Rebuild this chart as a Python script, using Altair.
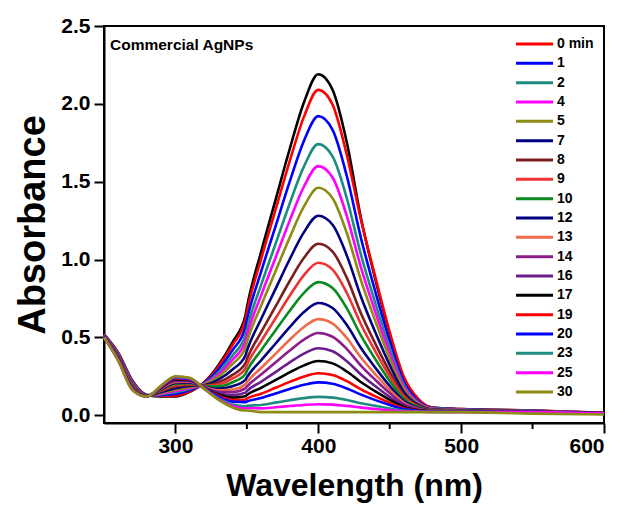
import altair as alt
import pandas as pd

# Wavelength grid (nm) shared by every spectrum
wavelength = [250, 260, 270, 280, 290, 300, 310, 320, 330, 340, 349, 350, 360, 370,
              380, 390, 400, 410, 420, 430, 440, 450, 460, 470, 480, 500, 550, 600]

# Absorbance spectra, one list per scan
abs_start = [0.52, 0.40, 0.22, 0.13, 0.12, 0.12, 0.15, 0.21, 0.32, 0.47, 0.64, 0.69, 1.05, 1.38,
             1.71, 2.01, 2.19, 2.09, 1.75, 1.26, 0.87, 0.52, 0.22, 0.09, 0.05, 0.04, 0.03, 0.015]
abs_0 = [0.519, 0.398, 0.217, 0.13, 0.123, 0.126, 0.154, 0.208, 0.31, 0.451, 0.612, 0.66, 1.003, 1.317,
         1.632, 1.918, 2.09, 1.995, 1.67, 1.25, 0.885, 0.535, 0.245, 0.105, 0.049, 0.039, 0.03, 0.015]
abs_1 = [0.518, 0.394, 0.213, 0.129, 0.129, 0.136, 0.161, 0.205, 0.293, 0.418, 0.564, 0.608, 0.922, 1.211,
         1.50, 1.763, 1.921, 1.833, 1.535, 1.133, 0.791, 0.476, 0.213, 0.09, 0.046, 0.038, 0.029, 0.014]
abs_2 = [0.516, 0.39, 0.208, 0.128, 0.134, 0.147, 0.169, 0.202, 0.274, 0.383, 0.514, 0.553, 0.837, 1.098,
         1.36, 1.598, 1.741, 1.662, 1.392, 1.027, 0.718, 0.432, 0.194, 0.083, 0.044, 0.036, 0.028, 0.014]
abs_4 = [0.515, 0.386, 0.204, 0.127, 0.139, 0.155, 0.174, 0.199, 0.26, 0.356, 0.474, 0.51, 0.77, 1.01,
         1.25, 1.469, 1.60, 1.527, 1.279, 0.945, 0.661, 0.399, 0.18, 0.078, 0.042, 0.035, 0.027, 0.014]
abs_5 = [0.513, 0.383, 0.20, 0.127, 0.144, 0.164, 0.18, 0.197, 0.246, 0.329, 0.435, 0.468, 0.704, 0.923,
         1.142, 1.341, 1.461, 1.394, 1.169, 0.863, 0.604, 0.365, 0.166, 0.073, 0.04, 0.033, 0.027, 0.013]
abs_7 = [0.512, 0.379, 0.195, 0.126, 0.149, 0.174, 0.188, 0.193, 0.228, 0.294, 0.384, 0.413, 0.618, 0.81,
         1.002, 1.176, 1.281, 1.223, 1.025, 0.758, 0.531, 0.322, 0.148, 0.066, 0.037, 0.032, 0.026, 0.013]
abs_8 = [0.51, 0.375, 0.19, 0.125, 0.155, 0.185, 0.195, 0.19, 0.21, 0.259, 0.334, 0.359, 0.533, 0.697,
         0.862, 1.011, 1.101, 1.051, 0.882, 0.652, 0.458, 0.279, 0.13, 0.06, 0.035, 0.03, 0.025, 0.0125]
abs_9 = [0.509, 0.372, 0.187, 0.124, 0.159, 0.193, 0.20, 0.188, 0.197, 0.236, 0.30, 0.322, 0.475, 0.621,
         0.767, 0.90, 0.979, 0.935, 0.785, 0.581, 0.409, 0.25, 0.117, 0.055, 0.033, 0.029, 0.024, 0.012]
abs_10 = [0.508, 0.369, 0.183, 0.124, 0.163, 0.20, 0.205, 0.185, 0.185, 0.212, 0.265, 0.284, 0.417, 0.544,
          0.671, 0.786, 0.855, 0.817, 0.686, 0.509, 0.359, 0.22, 0.105, 0.051, 0.032, 0.028, 0.024, 0.012]
abs_12 = [0.506, 0.366, 0.179, 0.123, 0.167, 0.208, 0.211, 0.183, 0.171, 0.186, 0.227, 0.243, 0.353, 0.459,
          0.566, 0.663, 0.721, 0.689, 0.579, 0.43, 0.304, 0.188, 0.091, 0.046, 0.03, 0.026, 0.023, 0.012]
abs_13 = [0.506, 0.364, 0.177, 0.123, 0.171, 0.214, 0.215, 0.181, 0.16, 0.165, 0.198, 0.211, 0.303, 0.394,
          0.485, 0.567, 0.617, 0.589, 0.496, 0.369, 0.262, 0.163, 0.08, 0.042, 0.028, 0.025, 0.023, 0.011]
abs_14 = [0.505, 0.362, 0.174, 0.122, 0.174, 0.22, 0.219, 0.179, 0.151, 0.148, 0.173, 0.184, 0.261, 0.338,
          0.415, 0.486, 0.528, 0.504, 0.425, 0.317, 0.226, 0.142, 0.071, 0.039, 0.027, 0.025, 0.022, 0.011]
abs_16 = [0.504, 0.359, 0.171, 0.122, 0.177, 0.225, 0.223, 0.178, 0.142, 0.129, 0.145, 0.155, 0.215, 0.277,
          0.339, 0.396, 0.43, 0.411, 0.347, 0.26, 0.186, 0.118, 0.062, 0.035, 0.026, 0.024, 0.022, 0.011]
abs_17 = [0.503, 0.358, 0.169, 0.122, 0.179, 0.23, 0.226, 0.176, 0.133, 0.113, 0.122, 0.13, 0.176, 0.225,
          0.275, 0.32, 0.348, 0.333, 0.281, 0.212, 0.153, 0.099, 0.053, 0.032, 0.025, 0.023, 0.022, 0.011]
abs_19 = [0.502, 0.356, 0.167, 0.121, 0.182, 0.235, 0.23, 0.175, 0.125, 0.098, 0.10, 0.106, 0.138, 0.176,
          0.214, 0.249, 0.27, 0.258, 0.219, 0.166, 0.121, 0.08, 0.045, 0.029, 0.023, 0.022, 0.021, 0.011]
abs_20 = [0.502, 0.354, 0.165, 0.121, 0.184, 0.239, 0.232, 0.174, 0.119, 0.087, 0.084, 0.088, 0.111, 0.14,
          0.169, 0.195, 0.211, 0.202, 0.172, 0.132, 0.097, 0.066, 0.039, 0.027, 0.023, 0.022, 0.021, 0.0105]
abs_23 = [0.501, 0.352, 0.163, 0.12, 0.187, 0.244, 0.236, 0.172, 0.11, 0.069, 0.057, 0.06, 0.066, 0.081,
          0.096, 0.11, 0.118, 0.113, 0.098, 0.077, 0.06, 0.043, 0.03, 0.024, 0.021, 0.021, 0.02, 0.01]
abs_25 = [0.50, 0.351, 0.161, 0.12, 0.188, 0.247, 0.238, 0.171, 0.105, 0.06, 0.044, 0.045, 0.044, 0.051,
          0.059, 0.066, 0.07, 0.068, 0.06, 0.049, 0.04, 0.032, 0.025, 0.022, 0.021, 0.02, 0.02, 0.01]
abs_30 = [0.50, 0.35, 0.16, 0.12, 0.19, 0.25, 0.24, 0.17, 0.10, 0.05, 0.03, 0.03, 0.02, 0.02,
          0.02, 0.02, 0.02, 0.02, 0.02, 0.02, 0.02, 0.02, 0.02, 0.02, 0.02, 0.02, 0.01, 0.005]

# Scan keys (draw order), legend labels and line colours
series_keys = ["start", "0 min", "1", "2", "4", "5", "7", "8", "9", "10", "12", "13",
               "14", "16", "17", "19", "20", "23", "25", "30"]
series_values = [abs_start, abs_0, abs_1, abs_2, abs_4, abs_5, abs_7, abs_8, abs_9, abs_10,
                 abs_12, abs_13, abs_14, abs_16, abs_17, abs_19, abs_20, abs_23, abs_25, abs_30]
series_colors = ["#000000", "#FF0000", "#0000FF", "#1E8C7E", "#FF00FF", "#8C8C14", "#000080",
                 "#7B1E1E", "#EE3333", "#0A8A1E", "#000080", "#EE6A4A", "#8B1E8B", "#6A1E8C",
                 "#000000", "#FF0000", "#0000FF", "#1E8C7E", "#FF00FF", "#8C8C14"]
legend_labels = series_keys[1:]

minor_ticks = [350, 450, 550]

FONT = "Liberation Sans"

rows = []
for order, (key, vals) in enumerate(zip(series_keys, series_values)):
    for wl, a in zip(wavelength, vals):
        rows.append({"series": key, "order": order, "wl": wl, "A": a})
spectra = pd.DataFrame(rows)

legend_df = pd.DataFrame({"series": legend_labels, "label": legend_labels})
minor_df = pd.DataFrame({"wl": minor_ticks})

color_scale = alt.Scale(domain=series_keys, range=series_colors)
x_scale = alt.Scale(domain=[250, 600], nice=False, zero=False)

lines = alt.Chart(spectra).mark_line(strokeWidth=2.6, interpolate="monotone").encode(
    x=alt.X("wl:Q", scale=x_scale,
            axis=alt.Axis(values=[300, 400, 500, 600], format="d", title="Wavelength (nm)",
                          tickSize=10, tickWidth=2, domainWidth=2, domainColor="black",
                          tickColor="black", labelFontSize=21, labelFontWeight="bold",
                          labelFont=FONT, labelColor="black", labelPadding=2,
                          titleFontSize=32, titleFontWeight="bold", titleFont=FONT,
                          titleColor="black", titlePadding=14, grid=False)),
    y=alt.Y("A:Q", scale=alt.Scale(domain=[-0.05, 2.5], nice=False, zero=False),
            axis=alt.Axis(values=[0, 0.5, 1.0, 1.5, 2.0, 2.5], format=".1f", title="Absorbance",
                          tickSize=10, tickWidth=2, domainWidth=2, domainColor="black",
                          tickColor="black", labelFontSize=21, labelFontWeight="bold",
                          labelFont=FONT, labelColor="black", labelPadding=4,
                          titleFontSize=38, titleFontWeight="bold", titleFont=FONT,
                          titleColor="black", titlePadding=8, grid=False)),
    color=alt.Color("series:N", scale=color_scale, legend=None),
    order=alt.Order("order:Q"),
    detail="series:N",
)

minor = alt.Chart(minor_df).mark_rule(color="black", strokeWidth=2).encode(
    x=alt.X("wl:Q", scale=x_scale),
    y=alt.value(397),
    y2=alt.value(403),
)

legend_y = alt.Y("label:N", sort=legend_labels,
                 scale=alt.Scale(type="point", domain=legend_labels, range=[18, 366], padding=0),
                 axis=None)

legend_lines = alt.Chart(legend_df).mark_rule(strokeWidth=3).encode(
    y=legend_y,
    x=alt.value(412),
    x2=alt.value(449),
    color=alt.Color("series:N", scale=color_scale, legend=None),
)

legend_text = alt.Chart(legend_df).mark_text(
    align="left", baseline="middle", fontSize=14, fontWeight="bold", font=FONT, color="black"
).encode(
    y=legend_y,
    x=alt.value(453),
    text="label:N",
)

label = alt.Chart(pd.DataFrame({"t": ["Commercial AgNPs"]})).mark_text(
    align="left", baseline="middle", fontSize=15.5, fontWeight="bold", font=FONT, color="black"
).encode(
    x=alt.value(6),
    y=alt.value(19),
    text="t:N",
)

chart = alt.layer(lines, minor, legend_lines, legend_text, label).resolve_scale(
    y="independent"
).properties(
    width=500,
    height=397,
    autosize=alt.AutoSizeParams(type="none"),
    padding={"left": 104, "top": 26, "right": 22, "bottom": 83},
    background="white",
).configure_view(
    stroke="black", strokeWidth=2
)

chart.save("out.html", embed_options={"renderer": "svg", "actions": False})
